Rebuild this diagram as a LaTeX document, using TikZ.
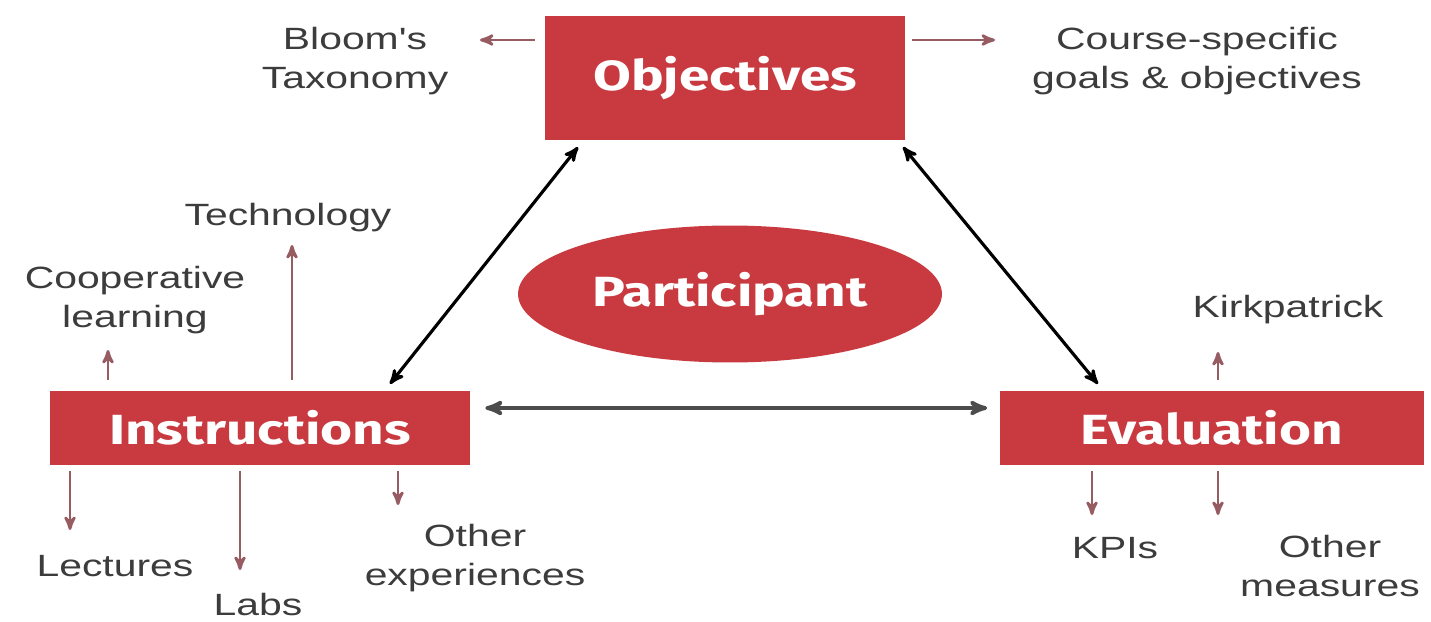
\documentclass[tikz,border=0pt]{standalone}
\usepackage{fontspec}
\newfontfamily\labelfont[FakeStretch=1.33]{Liberation Sans}
\newfontfamily\boxfont[FakeStretch=1.3]{Fira Sans}
\usetikzlibrary{arrows,shapes.geometric}
\definecolor{boxred}{RGB}{200,58,64}
\definecolor{linkred}{RGB}{150,92,98}
\definecolor{labelgray}{RGB}{60,60,60}

\begin{document}
\begin{tikzpicture}[x=0.02cm,y=-0.02cm]
\tikzstyle{block} = [rectangle, fill=boxred, text=white,
font=\boxfont\bfseries\fontsize{24}{28}\selectfont, inner sep=0pt]
\tikzstyle{cloud} = [ellipse, fill=boxred, text=white,
font=\boxfont\bfseries\fontsize{24}{28}\selectfont, inner sep=0pt]
\tikzstyle{label} = [text=labelgray, align=center,
font=\labelfont\fontsize{17.5}{22.7}\selectfont]
\tikzstyle{link} = [draw=linkred, line width=1.6pt, -stealth']
\tikzstyle{line} = [draw=black, line width=1.8pt, stealth'-stealth', shorten <=0.16cm, shorten >=0.16cm]
\useasboundingbox (0,0) rectangle (1431,622);
% main blocks
\node [block, minimum width=7.2cm, minimum height=2.5cm] (obj) at (725,78) {Objectives};
\node [cloud, minimum width=8.48cm, minimum height=2.74cm] (part) at (730,294) {Participant};
\node [block, minimum width=8.4cm, minimum height=1.5cm] (instr) at (260,428) {Instructions};
\node [block, minimum width=8.5cm, minimum height=1.5cm] (eval) at (1212,428) {Evaluation};
% labels
\node [label] (bloom) at (355,61) {Bloom's\\Taxonomy};
\node [label] (course) at (1197,61) {Course-specific\\goals \& objectives};
\node [label] (tech) at (288,218) {Technology};
\node [label] (coop) at (135,300) {Cooperative\\learning};
\node [label] (kirk) at (1288,310) {Kirkpatrick};
\node [label] (lect) at (115,566) {Lectures};
\node [label] (labs) at (258,605) {Labs};
\node [label] (otherexp) at (475,558) {Other\\experiences};
\node [label] (kpis) at (1115,548) {KPIs};
\node [label] (othermeas) at (1330,566) {Other\\measures};
% red links
\path [link, shorten <=0.2cm] (obj.west |- 0,40) -- (480,40);
\path [link, shorten <=0.14cm] (obj.east |- 0,40) -- (995,40);
\path [link, shorten <=0.2cm] (instr.north -| 292,0) -- (292,245);
\path [link, shorten <=0.2cm] (instr.north -| 108,0) -- (108,350);
\path [link, shorten <=0.1cm] (instr.south -| 70,0) -- (70,530);
\path [link, shorten <=0.1cm] (instr.south -| 240,0) -- (240,570);
\path [link, shorten <=0.1cm] (instr.south -| 398,0) -- (398,505);
\path [link, shorten <=0.2cm] (eval.north -| 1218,0) -- (1218,352);
\path [link, shorten <=0.1cm] (eval.south -| 1092,0) -- (1092,515);
\path [link, shorten <=0.1cm] (eval.south -| 1218,0) -- (1218,515);
% black links
\path [line] (obj.south -| 583,0) -- (instr.north -| 385,0);
\path [line] (obj.south -| 898,0) -- (eval.north -| 1103,0);
\path [line, draw=black!70, line width=2.2pt, shorten <=0.3cm, shorten >=0.24cm] ([yshift=0.4cm]instr.east) -- ([yshift=0.4cm]eval.west);
\end{tikzpicture}
\end{document}
